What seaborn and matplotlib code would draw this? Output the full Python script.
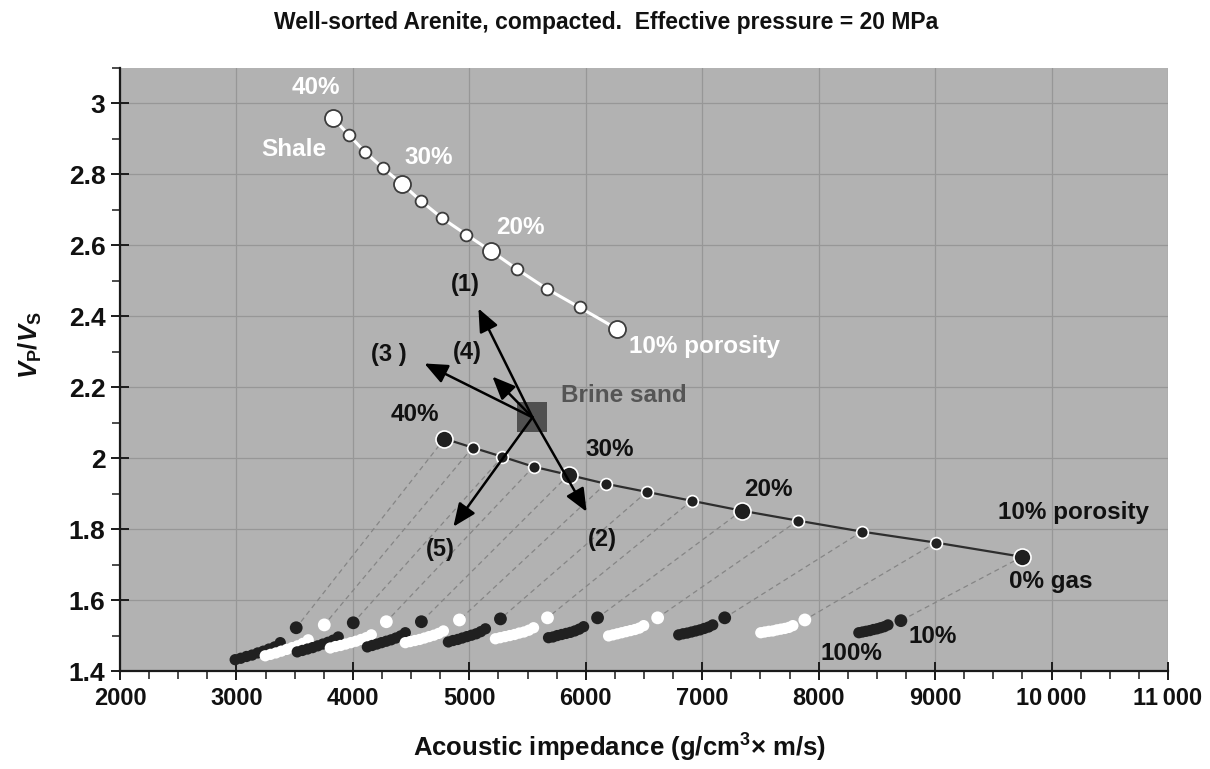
import matplotlib
matplotlib.use("Agg")
import matplotlib.pyplot as plt
import pandas as pd
import seaborn as sns
from matplotlib.ticker import MultipleLocator, FixedLocator, FixedFormatter

# Porosity steps along the shale and brine-sand trends (%)
porosity = [40, 37.5, 35, 32.5, 30, 27.5, 25, 22.5, 20, 17.5, 15, 12.5, 10]

# Shale trend
shale_ai = [3831, 3969, 4107, 4261, 4425, 4588, 4769, 4975, 5190, 5413, 5663, 5946, 6265]
shale_vpvs = [2.958, 2.910, 2.862, 2.817, 2.772, 2.724, 2.676, 2.630, 2.583, 2.532, 2.478, 2.425, 2.365]

# Brine-saturated sand trend (0% gas)
brine_ai = [4786, 5027, 5284, 5551, 5852, 6170, 6523, 6909, 7339, 7821, 8371, 9007, 9747]
brine_vpvs = [2.055, 2.030, 2.004, 1.976, 1.953, 1.928, 1.905, 1.880, 1.852, 1.824, 1.793, 1.762, 1.722]

# Gas substitution for each porosity step, gas saturation 10% ... 100%
gas_saturation = [10, 20, 30, 40, 50, 60, 70, 80, 90, 100]
gas_ai = [
    [3513, 3376, 3328, 3279, 3231, 3183, 3134, 3086, 3037, 2989],
    [3754, 3616, 3570, 3524, 3478, 3432, 3385, 3339, 3293, 3247],
    [4003, 3874, 3830, 3786, 3742, 3698, 3654, 3610, 3566, 3522],
    [4287, 4158, 4114, 4070, 4026, 3982, 3938, 3894, 3850, 3806],
    [4588, 4450, 4410, 4369, 4328, 4287, 4246, 4206, 4165, 4124],
    [4915, 4777, 4736, 4695, 4654, 4614, 4573, 4532, 4491, 4450],
    [5267, 5138, 5098, 5059, 5019, 4979, 4939, 4900, 4860, 4820],
    [5671, 5551, 5510, 5469, 5428, 5388, 5347, 5306, 5265, 5224],
    [6101, 5981, 5943, 5906, 5868, 5831, 5793, 5755, 5718, 5680],
    [6617, 6497, 6459, 6422, 6384, 6346, 6309, 6271, 6234, 6196],
    [7193, 7090, 7054, 7017, 6981, 6944, 6908, 6871, 6835, 6798],
    [7881, 7778, 7744, 7709, 7675, 7641, 7606, 7572, 7537, 7503],
    [8706, 8595, 8563, 8532, 8501, 8470, 8439, 8407, 8376, 8345],
]
gas_vpvs = [
    [1.522, 1.480, 1.468, 1.462, 1.456, 1.451, 1.445, 1.441, 1.436, 1.432],
    [1.530, 1.488, 1.478, 1.471, 1.466, 1.461, 1.456, 1.451, 1.447, 1.443],
    [1.536, 1.496, 1.487, 1.481, 1.476, 1.471, 1.466, 1.462, 1.458, 1.454],
    [1.539, 1.502, 1.494, 1.489, 1.484, 1.480, 1.476, 1.472, 1.469, 1.465],
    [1.539, 1.508, 1.499, 1.493, 1.488, 1.484, 1.480, 1.476, 1.472, 1.468],
    [1.544, 1.513, 1.506, 1.501, 1.497, 1.493, 1.489, 1.486, 1.483, 1.480],
    [1.547, 1.519, 1.511, 1.505, 1.501, 1.497, 1.493, 1.489, 1.486, 1.482],
    [1.550, 1.522, 1.515, 1.510, 1.507, 1.503, 1.500, 1.497, 1.494, 1.491],
    [1.550, 1.525, 1.518, 1.513, 1.509, 1.506, 1.503, 1.500, 1.496, 1.494],
    [1.550, 1.528, 1.521, 1.517, 1.514, 1.511, 1.508, 1.505, 1.502, 1.499],
    [1.550, 1.530, 1.524, 1.520, 1.516, 1.513, 1.510, 1.507, 1.505, 1.502],
    [1.544, 1.528, 1.523, 1.520, 1.518, 1.516, 1.513, 1.512, 1.510, 1.508],
    [1.542, 1.530, 1.525, 1.522, 1.519, 1.517, 1.514, 1.512, 1.510, 1.508],
]

# Brine sand reference point and the five trend arrows
brine_sand_ai, brine_sand_vpvs = 5542, 2.115
arrow_labels = ["(1)", "(2)", "(3 )", "(4)", "(5)"]
arrow_tip_ai = [5078, 6007, 4614, 5198, 4863]
arrow_tip_vpvs = [2.422, 1.849, 2.267, 2.230, 1.807]
arrow_label_ai = [4966, 6144, 4304, 4983, 4751]
arrow_label_vpvs = [2.489, 1.770, 2.292, 2.298, 1.742]

x_ticks = [2000, 3000, 4000, 5000, 6000, 7000, 8000, 9000, 10000, 11000]
x_tick_labels = ["2000", "3000", "4000", "5000", "6000", "7000", "8000", "9000",
                 "10\u2009000", "11\u2009000"]
y_ticks = [1.4, 1.6, 1.8, 2.0, 2.2, 2.4, 2.6, 2.8, 3.0]
y_tick_labels = ["1.4", "1.6", "1.8", "2", "2.2", "2.4", "2.6", "2.8", "3"]

sns.set_theme(style="ticks")
plt.rcParams["font.family"] = ["Liberation Sans", "DejaVu Sans"]
plt.rcParams["font.weight"] = "bold"
plt.rcParams["axes.labelweight"] = "bold"
plt.rcParams["mathtext.fontset"] = "custom"
plt.rcParams["mathtext.rm"] = "Liberation Sans:bold"
plt.rcParams["mathtext.it"] = "Liberation Sans:italic:bold"
plt.rcParams["mathtext.bf"] = "Liberation Sans:bold"

BG = "#b2b2b2"
DARK = "#202020"
INK = "#111111"

fig, ax = plt.subplots(figsize=(12.1, 7.69), dpi=100)
fig.patch.set_facecolor("white")
fig.subplots_adjust(left=0.0992, right=0.9653, top=0.9116, bottom=0.1274)
ax.set_facecolor(BG)

# --- data frames -------------------------------------------------------
big = [p in (40, 30, 20, 10) for p in porosity]
shale = pd.DataFrame({"ai": shale_ai, "vpvs": shale_vpvs, "por": porosity, "big": big})
brine = pd.DataFrame({"ai": brine_ai, "vpvs": brine_vpvs, "por": porosity, "big": big})

rows = []
for i, (xs, ys) in enumerate(zip(gas_ai, gas_vpvs)):
    for sg, x, y in zip(gas_saturation, xs, ys):
        rows.append({"ai": x, "vpvs": y, "step": i, "sg": sg,
                     "tone": "dark" if i % 2 == 0 else "light"})
gas = pd.DataFrame(rows)

# --- dashed tie lines from brine point to 10% gas ----------------------
for i in range(len(porosity)):
    ax.plot([brine_ai[i], gas_ai[i][0]], [brine_vpvs[i], gas_vpvs[i][0]],
            color="#858585", lw=0.9, ls=(0, (4, 3)), zorder=2)

# --- shale trend -------------------------------------------------------
sns.lineplot(data=shale, x="ai", y="vpvs", sort=False, color="white", lw=2.2,
             ax=ax, zorder=3)
sns.scatterplot(data=shale[~shale.big], x="ai", y="vpvs", s=72, color="white",
                edgecolor="#3c3c3c", linewidth=1.3, ax=ax, zorder=4)
sns.scatterplot(data=shale[shale.big], x="ai", y="vpvs", s=150, color="white",
                edgecolor="#3c3c3c", linewidth=1.3, ax=ax, zorder=4)

# --- brine sand trend --------------------------------------------------
sns.lineplot(data=brine, x="ai", y="vpvs", sort=False, color="#2e2e2e", lw=1.6,
             ax=ax, zorder=3)
sns.scatterplot(data=brine[~brine.big], x="ai", y="vpvs", s=72, color=DARK,
                edgecolor="white", linewidth=1.2, ax=ax, zorder=4)
sns.scatterplot(data=brine[brine.big], x="ai", y="vpvs", s=150, color=DARK,
                edgecolor="white", linewidth=1.2, ax=ax, zorder=4)

# --- gas substituted points -------------------------------------------
sns.scatterplot(data=gas[gas.sg > 10], x="ai", y="vpvs", hue="tone",
                palette={"dark": DARK, "light": "white"}, s=66, linewidth=0,
                legend=False, ax=ax, zorder=5)
sns.scatterplot(data=gas[gas.sg == 10], x="ai", y="vpvs", hue="tone",
                palette={"dark": DARK, "light": "white"}, s=85, linewidth=0,
                legend=False, ax=ax, zorder=5)

# --- brine sand marker and arrows --------------------------------------
ax.scatter([brine_sand_ai], [brine_sand_vpvs], marker="s", s=440,
           color="#505050", linewidth=0, zorder=6)
for tx, ty in zip(arrow_tip_ai, arrow_tip_vpvs):
    ax.annotate("", xy=(tx, ty), xytext=(brine_sand_ai, brine_sand_vpvs),
                arrowprops=dict(arrowstyle="-|>,head_length=0.7,head_width=0.3",
                                mutation_scale=20, lw=1.8, color="black",
                                shrinkA=0, shrinkB=0), zorder=7)
for lab, lx, ly in zip(arrow_labels, arrow_label_ai, arrow_label_vpvs):
    ax.text(lx, ly, lab, fontsize=17, ha="center", va="center",
            color=INK, zorder=8)

# --- annotations -------------------------------------------------------
txt = dict(fontsize=17.5, va="center", zorder=8)
ax.text(3685, 3.045, "40%", color="white", ha="center", **txt)
ax.text(3496, 2.870, "Shale", color="white", ha="center", **txt)
ax.text(4648, 2.848, "30%", color="white", ha="center", **txt)
ax.text(5439, 2.650, "20%", color="white", ha="center", **txt)
ax.text(6368, 2.315, "10% porosity", color="white", ha="left", **txt)
ax.text(5783, 2.176, "Brine sand", color="#555555", ha="left", **txt)
ax.text(4528, 2.123, "40%", color=INK, ha="center", **txt)
ax.text(6205, 2.024, "30%", color=INK, ha="center", **txt)
ax.text(7572, 1.911, "20%", color=INK, ha="center", **txt)
ax.text(9540, 1.846, "10% porosity", color=INK, ha="left", **txt)
ax.text(9635, 1.652, "0% gas", color=INK, ha="left", **txt)
ax.text(8285, 1.449, "100%", color=INK, ha="center", **txt)
ax.text(8982, 1.496, "10%", color=INK, ha="center", **txt)

# --- axes styling ------------------------------------------------------
ax.set_xlim(2000, 11000)
ax.set_ylim(1.4, 3.1)
ax.xaxis.set_major_locator(FixedLocator(x_ticks))
ax.xaxis.set_major_formatter(FixedFormatter(x_tick_labels))
ax.xaxis.set_minor_locator(MultipleLocator(250))
ax.yaxis.set_major_locator(FixedLocator(y_ticks))
ax.yaxis.set_major_formatter(FixedFormatter(y_tick_labels))
ax.yaxis.set_minor_locator(MultipleLocator(0.1))
ax.grid(True, which="major", color="#979797", lw=0.9)
ax.set_axisbelow(True)

for side in ("top", "right"):
    ax.spines[side].set_visible(False)
for side in ("left", "bottom"):
    ax.spines[side].set_color("#1a1a1a")
    ax.spines[side].set_linewidth(1.6)

ax.tick_params(which="major", direction="inout", length=13, width=1.4,
               color="#1a1a1a")
ax.tick_params(which="minor", direction="out", length=6, width=1.1,
               color="#1a1a1a")
ax.tick_params(axis="x", which="major", labelsize=17, pad=5, labelcolor=INK)
ax.tick_params(axis="y", which="major", labelsize=19, pad=4, labelcolor=INK)

ax.set_xlabel("Acoustic impedance (g/cm$^{3}$\u00d7 m/s)", fontsize=18.5,
              color=INK)
ax.xaxis.set_label_coords(0.477, -0.128)
ax.xaxis.label.set_va("center")
ax.set_ylabel(r"$V_{\mathrm{P}}/V_{\mathrm{S}}$", fontsize=18.5, color=INK)
ax.yaxis.set_label_coords(-0.086, 0.54)
ax.yaxis.label.set_va("center")

fig.text(0.501, 1 - 22 / 769, "Well-sorted Arenite, compacted.  Effective pressure = 20 MPa",
         ha="center", va="center", fontsize=16.5, color=INK)

fig.savefig("out.png", dpi=100, facecolor="white")
